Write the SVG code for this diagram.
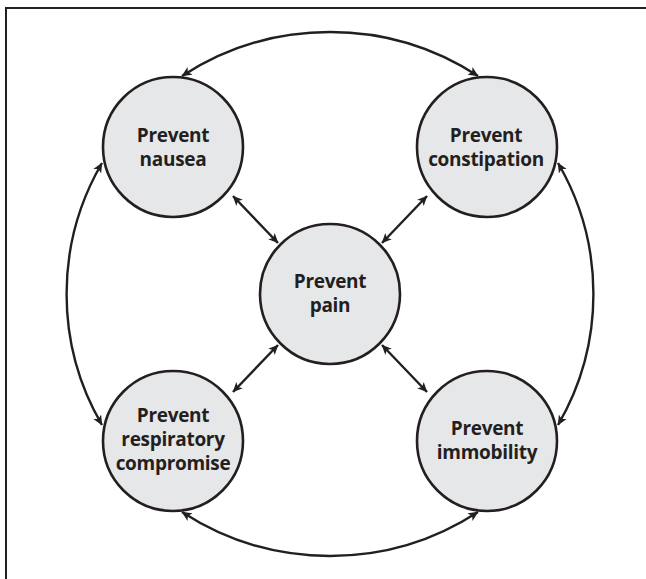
<svg xmlns="http://www.w3.org/2000/svg" width="646" height="579" viewBox="0 0 646 579">
<defs>
<marker id="ah" viewBox="0 0 10 10" refX="9.5" refY="5" markerWidth="10" markerHeight="10" markerUnits="userSpaceOnUse" orient="auto-start-reverse">
<path d="M0,0.5 L10,5 L0,9.5 L2.5,5 z" fill="#231f20"/>
</marker>
<style>
.node circle{fill:#e6e7e8;stroke:#231f20;stroke-width:2.6}
.node text{font-family:"Open Sans","Noto Sans","Liberation Sans",sans-serif;font-weight:700;font-size:19px;letter-spacing:-0.3px;fill:#231f20;text-anchor:middle}
.conn path{fill:none;stroke:#231f20;stroke-width:2.4;marker-start:url(#ah);marker-end:url(#ah)}
</style>
</defs>
<rect width="646" height="579" fill="#ffffff"/>
<path d="M6,579 V8 H646" fill="none" stroke="#231f20" stroke-width="2"/>
<g id="connectors" class="conn">
<path d="M182,76 A271,271 0 0 1 478,76"/>
<path d="M102,163 A260,260 0 0 0 102,425"/>
<path d="M558,163 A260,260 0 0 1 558,425"/>
<path d="M182,512 A271,271 0 0 0 478,512"/>
<path d="M233,196 L278,243"/>
<path d="M427,196 L382,243"/>
<path d="M233,392 L278,345"/>
<path d="M427,392 L382,345"/>
</g>
<g id="node-nausea" class="node">
<circle cx="173" cy="147" r="70"/>
<text x="173" y="142">Prevent</text>
<text x="173" y="166">nausea</text>
</g>
<g id="node-constipation" class="node">
<circle cx="487" cy="147" r="70"/>
<text x="486" y="142">Prevent</text>
<text x="486" y="166">constipation</text>
</g>
<g id="node-pain" class="node">
<circle cx="330" cy="294" r="70"/>
<text x="330" y="288">Prevent</text>
<text x="330" y="312">pain</text>
</g>
<g id="node-respiratory" class="node">
<circle cx="173" cy="441" r="70"/>
<text x="173" y="422">Prevent</text>
<text x="173" y="446">respiratory</text>
<text x="173" y="470">compromise</text>
</g>
<g id="node-immobility" class="node">
<circle cx="487" cy="441" r="70"/>
<text x="487" y="435">Prevent</text>
<text x="487" y="459">immobility</text>
</g>
</svg>
